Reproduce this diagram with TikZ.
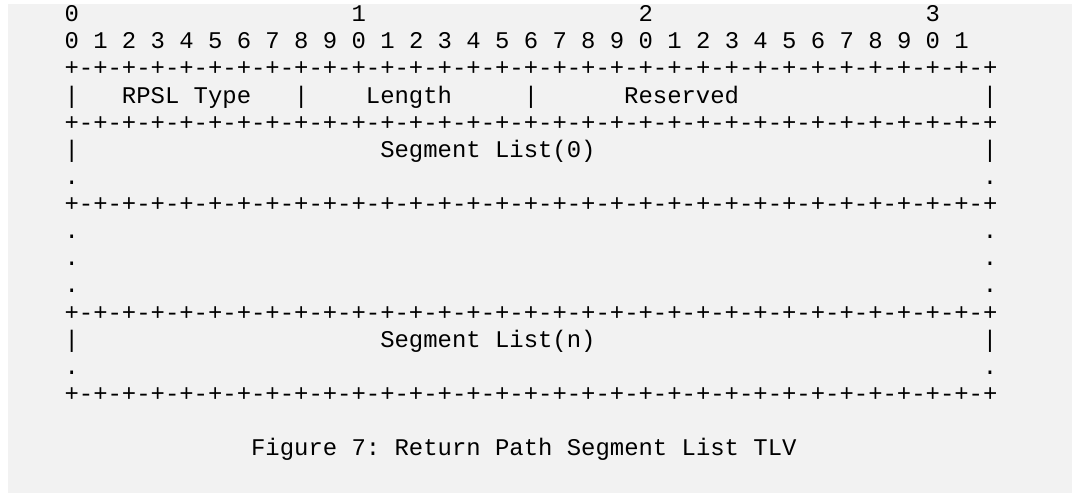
\documentclass[tikz,border=0pt]{standalone}
\usepackage{fontspec}
\newfontfamily\asciifont{Liberation Mono}
\definecolor{bggray}{RGB}{242,242,242}
\definecolor{ink}{RGB}{0,0,0}
\def\bdpair{+-}
\def\bdquad{\bdpair\bdpair\bdpair\bdpair}
\def\bdline{\bdquad\bdquad\bdquad\bdquad\bdquad\bdquad\bdquad\bdquad+}
\frenchspacing
\begin{document}
\begin{tikzpicture}[x=1pt,y=-1pt,
  txt/.style={anchor=base west,inner sep=0pt,outer sep=0pt,text=ink,
    font=\asciifont\fontsize{23.92}{27}\selectfont},
  cr/.style 2 args={at={({21.5+14.35*#1},{21.7+27.125*(#2-1)})}}]
\useasboundingbox (0,0) rectangle (1072,495);
\fill[white] (0,0) rectangle (1072,495);
\fill[bggray] (8,4) rectangle (1072,493);
% row 1: decade labels
\node[txt,cr={3}{1}]  (d0) {0};
\node[txt,cr={23}{1}] (d1) {1};
\node[txt,cr={43}{1}] (d2) {2};
\node[txt,cr={63}{1}] (d3) {3};
% row 2: bit labels
\node[txt,cr={3}{2}] (bits) {0 1 2 3 4 5 6 7 8 9 0 1 2 3 4 5 6 7 8 9 0 1 2 3 4 5 6 7 8 9 0 1};
% row 3
\node[txt,cr={3}{3}] (b1) {\bdline};
% row 4
\node[txt,cr={3}{4}]  (p1) {|};
\node[txt,cr={7}{4}]  (rpsl) {RPSL Type};
\node[txt,cr={19}{4}] (p2) {|};
\node[txt,cr={24}{4}] (len) {Length};
\node[txt,cr={35}{4}] (p3) {|};
\node[txt,cr={42}{4}] (res) {Reserved};
\node[txt,cr={67}{4}] (p4) {|};
% row 5
\node[txt,cr={3}{5}] (b2) {\bdline};
% row 6-7
\node[txt,cr={3}{6}]  (p5) {|};
\node[txt,cr={25}{6}] (seg0) {Segment List(0)};
\node[txt,cr={67}{6}] (p6) {|};
\node[txt,cr={3}{7}]  (e1) {.};
\node[txt,cr={67}{7}] (e2) {.};
% row 8
\node[txt,cr={3}{8}] (b3) {\bdline};
% rows 9-11
\node[txt,cr={3}{9}]   (e3) {.};
\node[txt,cr={67}{9}]  (e4) {.};
\node[txt,cr={3}{10}]  (e5) {.};
\node[txt,cr={67}{10}] (e6) {.};
\node[txt,cr={3}{11}]  (e7) {.};
\node[txt,cr={67}{11}] (e8) {.};
% row 12
\node[txt,cr={3}{12}] (b4) {\bdline};
% rows 13-14
\node[txt,cr={3}{13}]  (p7) {|};
\node[txt,cr={25}{13}] (segn) {Segment List(n)};
\node[txt,cr={67}{13}] (p8) {|};
\node[txt,cr={3}{14}]  (e9) {.};
\node[txt,cr={67}{14}] (e10) {.};
% row 15
\node[txt,cr={3}{15}] (b5) {\bdline};
% caption
\node[txt,cr={16}{17}] (cap) {Figure 7: Return Path Segment List TLV};
\end{tikzpicture}
\end{document}
